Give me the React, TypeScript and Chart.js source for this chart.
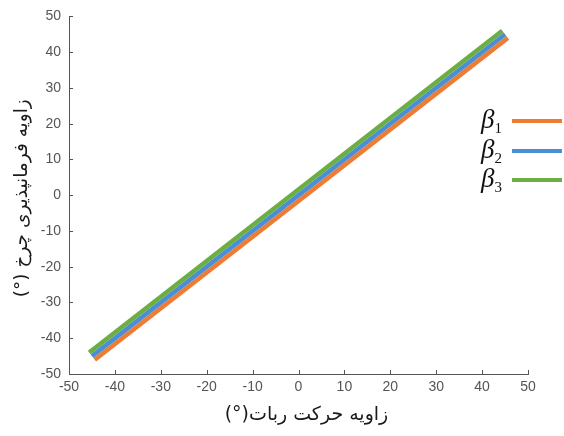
import React, { useEffect, useRef } from 'react';
import { Chart, registerables } from 'chart.js';

Chart.register(...registerables);

// ---- data ----
const xTickValues = [-50, -40, -30, -20, -10, 0, 10, 20, 30, 40, 50];
const yTickValues = [-50, -40, -30, -20, -10, 0, 10, 20, 30, 40, 50];

const beta1X = [-44.4, 45.6];
const beta1Y = [-46.0, 44.0];
const beta2X = [-45, 45];
const beta2Y = [-45, 45];
const beta3X = [-45.6, 44.4];
const beta3Y = [-44.0, 46.0];

const seriesNames = ['β1', 'β2', 'β3'];
const seriesBase = ['β', 'β', 'β'];
const seriesSub = ['1', '2', '3'];
const seriesColors = ['#EE7C33', '#4A8ED6', '#6CAE43'];

const xTitle = 'زاویه حرکت ربات(°)';
const yTitle = 'زاویه فرمانپذیری چرخ (°)';

const toPoints = (xs: number[], ys: number[]) => xs.map((x, i) => ({ x, y: ys[i] }));

const axisColor = '#555555';
const tickLabelColor = '#555555';

const decorPlugin = {
  id: 'decor',
  afterDraw(chart: any) {
    const ctx = chart.ctx as CanvasRenderingContext2D;
    const xs = chart.scales.x;
    const ys = chart.scales.y;
    const area = chart.chartArea;
    ctx.save();
    // inward ticks
    ctx.strokeStyle = axisColor;
    ctx.lineWidth = 1;
    ctx.beginPath();
    xTickValues.forEach((v) => {
      const px = Math.round(xs.getPixelForValue(v)) + 0.5;
      ctx.moveTo(px, area.bottom);
      ctx.lineTo(px, area.bottom - 4);
    });
    yTickValues.forEach((v) => {
      const py = Math.round(ys.getPixelForValue(v)) + 0.5;
      ctx.moveTo(area.left, py);
      ctx.lineTo(area.left + 4, py);
    });
    ctx.stroke();

    // axis titles (RTL Persian)
    ctx.fillStyle = '#1a1a1a';
    ctx.textAlign = 'center';
    ctx.textBaseline = 'middle';
    (ctx as any).direction = 'rtl';
    ctx.font = '19px "DejaVu Sans", sans-serif';
    ctx.fillText(xTitle, (area.left + area.right) / 2 + 8, 415);
    ctx.save();
    ctx.font = '18.5px "DejaVu Sans", sans-serif';
    ctx.translate(22, (area.top + area.bottom) / 2 + 3);
    ctx.rotate(-Math.PI / 2);
    ctx.fillText(yTitle, 0, 0);
    ctx.restore();
    (ctx as any).direction = 'ltr';

    // legend
    const rowY = [121, 151, 180];
    seriesNames.forEach((_, i) => {
      const y = rowY[i];
      ctx.textAlign = 'left';
      ctx.textBaseline = 'alphabetic';
      ctx.fillStyle = '#111111';
      ctx.font = 'italic 27px "Liberation Serif", serif';
      ctx.fillText(seriesBase[i], 481, y + 7);
      const w = ctx.measureText(seriesBase[i]).width;
      ctx.font = '15px "Liberation Serif", serif';
      ctx.fillText(seriesSub[i], 481 + w, y + 12);
      ctx.strokeStyle = seriesColors[i];
      ctx.lineWidth = 4;
      ctx.beginPath();
      ctx.moveTo(512, y);
      ctx.lineTo(562, y);
      ctx.stroke();
    });
    ctx.restore();
  },
};

export default function App() {
  const canvasRef = useRef<HTMLCanvasElement | null>(null);

  useEffect(() => {
    const canvas = canvasRef.current;
    if (!canvas) return;
    const makeDs = (i: number, xs: number[], ysArr: number[], order: number) => ({
      label: seriesNames[i],
      data: toPoints(xs, ysArr),
      borderColor: seriesColors[i],
      backgroundColor: seriesColors[i],
      borderWidth: 4.5,
      pointRadius: 0,
      borderCapStyle: 'butt',
      order,
    });
    const chart = new Chart(canvas, {
      type: 'line',
      data: {
        datasets: [
          makeDs(0, beta1X, beta1Y, 3),
          makeDs(1, beta2X, beta2Y, 2),
          makeDs(2, beta3X, beta3Y, 1),
        ],
      },
      options: {
        responsive: false,
        animation: false,
        devicePixelRatio: 1,
        layout: { padding: { left: 0, top: 15, right: 36, bottom: 0 } },
        plugins: {
          legend: { display: false },
          tooltip: { enabled: false },
          title: { display: false },
        },
        scales: {
          x: {
            type: 'linear',
            min: -50,
            max: 50,
            afterBuildTicks: (scale: any) => {
              scale.ticks = xTickValues.map((v) => ({ value: v }));
            },
            afterFit: (scale: any) => {
              scale.height = 62;
            },
            ticks: {
              color: tickLabelColor,
              font: { family: '"Liberation Sans", Arial, sans-serif', size: 14 },
              padding: 5,
              maxRotation: 0,
              autoSkip: false,
            },
            grid: { drawOnChartArea: false, drawTicks: false },
            border: { display: true, color: axisColor, width: 1 },
          },
          y: {
            type: 'linear',
            min: -50,
            max: 50,
            afterBuildTicks: (scale: any) => {
              scale.ticks = yTickValues.map((v) => ({ value: v }));
            },
            afterFit: (scale: any) => {
              scale.width = 69;
            },
            ticks: {
              color: tickLabelColor,
              font: { family: '"Liberation Sans", Arial, sans-serif', size: 14 },
              padding: 8,
              autoSkip: false,
            },
            grid: { drawOnChartArea: false, drawTicks: false },
            border: { display: true, color: axisColor, width: 1 },
          },
        },
      } as any,
      plugins: [decorPlugin],
    });
    return () => chart.destroy();
  }, []);

  return (
    <div style={{ position: 'absolute', left: 0, top: 0, width: 564, height: 436, background: '#ffffff' }}>
      <canvas ref={canvasRef} width={564} height={436} style={{ display: 'block' }} />
    </div>
  );
}
